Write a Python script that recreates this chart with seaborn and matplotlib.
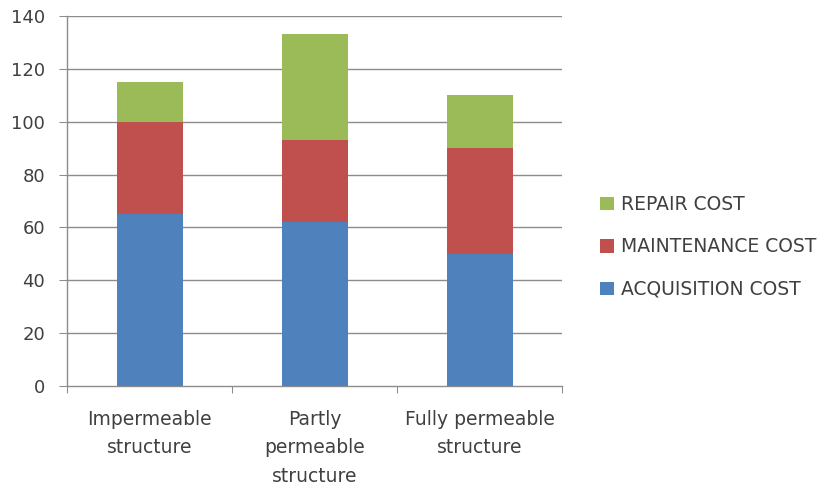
import matplotlib
matplotlib.use("Agg")
import matplotlib.pyplot as plt
import seaborn as sns
import pandas as pd
import numpy as np
from matplotlib.patches import Patch

categories = ["Impermeable\nstructure", "Partly\npermeable\nstructure", "Fully permeable\nstructure"]
acquisition = [65, 62, 50]
maintenance = [35, 31, 40]
repair = [15, 40, 20]
series_names = ["ACQUISITION COST", "MAINTENANCE COST", "REPAIR COST"]
colors = ["#4F81BD", "#C0504D", "#9BBB59"]
yticks = [0, 20, 40, 60, 80, 100, 120, 140]

sns.set_style("white")
plt.rcParams['font.family'] = ['DejaVu Sans']
plt.rcParams['axes.spines.right'] = False
plt.rcParams['axes.spines.top'] = False

df = pd.DataFrame({"cat": categories, "acq": acquisition, "mai": maintenance, "rep": repair})
df["mai_top"] = df["acq"] + df["mai"]
df["rep_top"] = df["mai_top"] + df["rep"]

fig = plt.figure(figsize=(8.25, 4.87), dpi=100)
ax = fig.add_axes([67/825, 1-386/487, (562-67)/825, (386-16)/487])

grid_c = "#8C8C8C"
txt_c = "#404040"
ax.set_axisbelow(True)
for y in yticks[1:]:
    ax.axhline(y, color=grid_c, lw=1.0, zorder=0)

# stacked: draw cumulative totals back to front
sns.barplot(data=df, x="cat", y="rep_top", color=colors[2], width=0.4, saturation=1, ax=ax, zorder=2)
sns.barplot(data=df, x="cat", y="mai_top", color=colors[1], width=0.4, saturation=1, ax=ax, zorder=3)
sns.barplot(data=df, x="cat", y="acq", color=colors[0], width=0.4, saturation=1, ax=ax, zorder=4)
for p in ax.patches:
    p.set_edgecolor("none")

ax.set_xlim(-0.5, 2.5)
ax.set_ylim(0, 140)
ax.set_yticks(yticks)
ax.set_xlabel("")
ax.set_ylabel("")

ax.set_xticks([0, 1, 2])
ax.set_xticklabels(categories, fontsize=13.5, color=txt_c, linespacing=1.65)
ax.set_xticks([-0.5, 0.5, 1.5, 2.5], minor=True)
ax.tick_params(axis="x", which="major", length=0, pad=17, bottom=True, labelcolor=txt_c)
ax.tick_params(axis="x", which="minor", length=5, color=grid_c, width=0.75, direction="out", bottom=True)
ax.tick_params(axis="y", which="major", length=5.8, color=grid_c, width=0.75, direction="out",
               labelsize=13, labelcolor=txt_c, pad=10, left=True)

sns.despine(ax=ax, top=True, right=True)
ax.patch.set_edgecolor("none")
ax.patch.set_linewidth(0)
for s in ["left", "bottom"]:
    ax.spines[s].set_color(grid_c)
    ax.spines[s].set_linewidth(1.0)

handles = [Patch(facecolor=colors[i], edgecolor="none", label=series_names[i]) for i in [2, 1, 0]]
fig.legend(handles=handles, loc="center left", bbox_to_anchor=(591/825, 1-247/487),
           frameon=False, fontsize=13.5, handlelength=0.7, handleheight=0.7, borderpad=0,
           handletextpad=0.4, labelspacing=1.25, labelcolor=txt_c)

fig.savefig("out.png", dpi=100)
